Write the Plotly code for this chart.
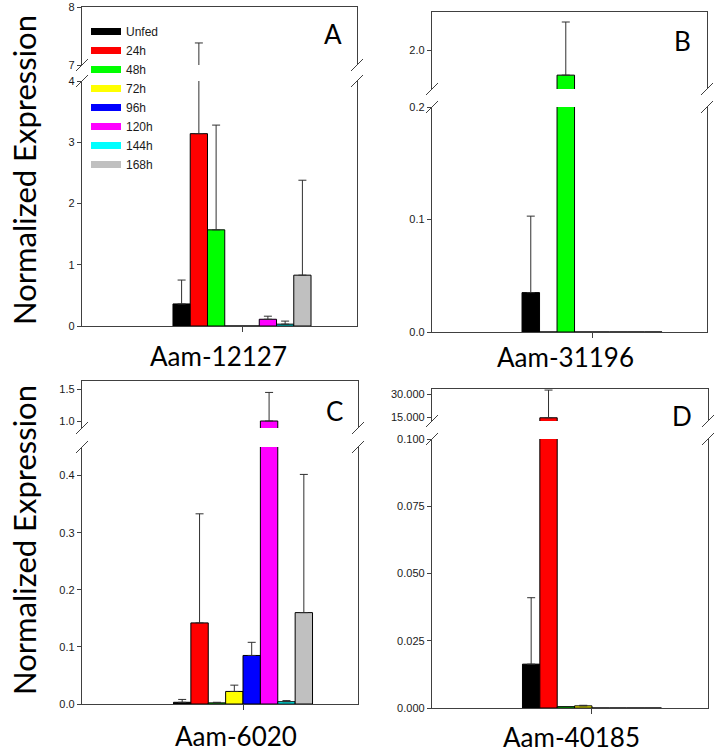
import plotly.graph_objects as go

# ---------------- data ----------------
series = ["Unfed", "24h", "48h", "72h", "96h", "120h", "144h", "168h"]
colors = ["#000000", "#ff0000", "#00ff00", "#ffff00", "#0000ff", "#ff00ff", "#00ffff", "#c0c0c0"]
genes = ["Aam-12127", "Aam-31196", "Aam-6020", "Aam-40185"]
panel_letters = ["A", "B", "C", "D"]

# mean normalized expression per time point
a_vals = [0.36, 3.14, 1.57, 0.0, 0.0, 0.11, 0.03, 0.83]
b_vals = [0.035, 0.0, 1.68, 0.0, 0.0, 0.0, 0.0, 0.0]
c_vals = [0.003, 0.142, 0.002, 0.022, 0.085, 1.0, 0.004, 0.16]
d_vals = [0.0163, 14.5, 0.0005, 0.0008, 0.0, 0.0, 0.0, 0.0]

# top of the (upper) error bar; None = no error bar
a_err_top = [0.75, 7.38, 3.28, None, None, 0.16, 0.08, 2.38]
b_err_top = [0.103, None, 2.37, None, None, None, None, None]
c_err_top = [0.008, 0.333, 0.003, 0.033, 0.108, 1.45, 0.006, 0.402]
d_err_top = [0.041, 32.6, None, 0.001, None, None, None, None]

# broken y axes: lower and upper segment ranges and ticks
a_low_range, a_up_range = [0, 4], [7, 8]
b_low_range, b_up_range = [0, 0.2], [1.5, 2.5]
c_low_range, c_up_range = [0, 0.45], [0.89, 1.63]
d_low_range, d_up_range = [0, 0.1], [12.4, 33.3]
a_low_ticks, a_up_ticks = [0, 1, 2, 3, 4], [7, 8]
b_low_ticks, b_up_ticks = [0.0, 0.1, 0.2], [2.0]
c_low_ticks, c_up_ticks = [0.0, 0.1, 0.2, 0.3, 0.4], [1.0, 1.5]
d_low_ticks, d_up_ticks = [0.0, 0.025, 0.05, 0.075, 0.1], [15, 30]

# ---------------- layout geometry (pixels) ----------------
W, H = 727, 755
def px(x):
    return x / W
def py(y):
    return 1 - y / H

panels = [
    dict(vals=a_vals, tops=a_err_top, lr=a_low_range, ur=a_up_range, lt=a_low_ticks, ut=a_up_ticks, fmt="d",
         xpx=(82, 357), low=(81, 326), up=(7, 65), xr=(-1.159, 0.833), lab=(333, 34), tit=(218, 356)),
    dict(vals=b_vals, tops=b_err_top, lr=b_low_range, ur=b_up_range, lt=b_low_ticks, ut=b_up_ticks, fmt=".1f",
         xpx=(432, 707), low=(107, 332), up=(12, 89), xr=(-1.143, 0.821), lab=(682, 41), tit=(565, 357)),
    dict(vals=c_vals, tops=c_err_top, lr=c_low_range, ur=c_up_range, lt=c_low_ticks, ut=c_up_ticks, fmt=".1f",
         xpx=(82, 358), low=(447, 704), up=(381, 428), xr=(-1.158, 0.827), lab=(334, 411), tit=(236, 736)),
    dict(vals=d_vals, tops=d_err_top, lr=d_low_range, ur=d_up_range, lt=d_low_ticks, ut=d_up_ticks, fmt=".3f",
         xpx=(432, 708), low=(439, 708), up=(389, 421), xr=(-1.151, 0.835), lab=(682, 416), tit=(571, 737)),
]

AXIS_COLOR = "#404040"
TICK_FONT = dict(family="Liberation Sans, Arial", size=11, color="#1a1a1a")
BIG_FONT = "Lato, Open Sans, sans-serif"

fig = go.Figure()
layout = dict(
    width=W, height=H, margin=dict(l=0, r=0, t=0, b=0, pad=0, autoexpand=False),
    plot_bgcolor="white", paper_bgcolor="white",
    barmode="overlay", showlegend=True,
)
shapes, annotations = [], []
n = len(series)
bw = 1.0 / n

for p_i, p in enumerate(panels):
    lo_idx = 2 * p_i + 1
    up_idx = 2 * p_i + 2
    xs = lambda k: "x" if k == 1 else f"x{k}"
    ys = lambda k: "y" if k == 1 else f"y{k}"
    xkey = lambda k: "xaxis" if k == 1 else f"xaxis{k}"
    ykey = lambda k: "yaxis" if k == 1 else f"yaxis{k}"
    xdom = [px(p["xpx"][0]), px(p["xpx"][1])]

    for seg_idx in (lo_idx, up_idx):
        for i, s in enumerate(series):
            v = p["vals"][i]
            t = p["tops"][i]
            err = None
            if t is not None:
                err = dict(type="data", symmetric=False, array=[t - v], arrayminus=[0],
                           color="#303030", thickness=1, width=4)
            fig.add_trace(go.Bar(
                x=[0], y=[v], width=[bw], offset=-0.5 + i * bw,
                marker=dict(color=colors[i], line=dict(color="#000000", width=1)),
                error_y=err if err else dict(visible=False),
                xaxis=xs(seg_idx), yaxis=ys(seg_idx), name=s, showlegend=False,
                hovertemplate=f"{genes[p_i]} {s}: %{{y}}<extra></extra>",
            ))

    # lower segment axes
    layout[xkey(lo_idx)] = dict(
        domain=xdom, anchor=ys(lo_idx), range=list(p["xr"]), showgrid=False, zeroline=False,
        showline=True, linecolor=AXIS_COLOR, linewidth=1.3, ticks="outside", ticklen=5,
        tickcolor=AXIS_COLOR, tickvals=[0], ticktext=[""], fixedrange=True, automargin=False,
    )
    layout[ykey(lo_idx)] = dict(
        domain=[py(p["low"][1]), py(p["low"][0])], anchor=xs(lo_idx), range=p["lr"],
        showgrid=False, zeroline=False, showline=True, mirror=True, linecolor=AXIS_COLOR,
        linewidth=1.3, ticks="outside", ticklen=4, tickcolor=AXIS_COLOR, tickvals=p["lt"],
        tickformat=p["fmt"], tickfont=TICK_FONT, fixedrange=True, automargin=False,
    )
    # upper segment axes
    layout[xkey(up_idx)] = dict(
        domain=xdom, anchor=ys(up_idx), matches=xs(lo_idx), side="top", showgrid=False,
        zeroline=False, showline=True, linecolor=AXIS_COLOR, linewidth=1.3, ticks="",
        showticklabels=False, fixedrange=True, automargin=False,
    )
    layout[ykey(up_idx)] = dict(
        domain=[py(p["up"][1]), py(p["up"][0])], anchor=xs(up_idx), range=p["ur"],
        showgrid=False, zeroline=False, showline=True, mirror=True, linecolor=AXIS_COLOR,
        linewidth=1.3, ticks="outside", ticklen=4, tickcolor=AXIS_COLOR, tickvals=p["ut"],
        tickformat=p["fmt"], tickfont=TICK_FONT, fixedrange=True, automargin=False,
    )

    # axis break marks "//" on both sides
    for xe in p["xpx"]:
        for ye in (p["low"][0], p["up"][1]):
            shapes.append(dict(type="line", xref="paper", yref="paper",
                               x0=px(xe - 6), y0=py(ye + 6), x1=px(xe + 6), y1=py(ye - 6),
                               line=dict(color=AXIS_COLOR, width=1)))

    annotations.append(dict(text=panel_letters[p_i], xref="paper", yref="paper",
                            x=px(p["lab"][0]), y=py(p["lab"][1]), xanchor="center", yanchor="middle",
                            showarrow=False, font=dict(family=BIG_FONT, size=26, color="black")))
    annotations.append(dict(text=genes[p_i], xref="paper", yref="paper",
                            x=px(p["tit"][0]), y=py(p["tit"][1]), xanchor="center", yanchor="middle",
                            showarrow=False, font=dict(family=BIG_FONT, size=26, color="black")))

# y-axis titles for left column
for yc in (170, 540):
    annotations.append(dict(text="Normalized Expression", xref="paper", yref="paper",
                            x=px(24), y=py(yc), xanchor="center", yanchor="middle", textangle=-90,
                            showarrow=False, font=dict(family=BIG_FONT, size=31, color="black")))

# legend entries (rectangle swatches)
for i, s in enumerate(series):
    fig.add_trace(go.Scatter(x=[None], y=[None], mode="lines", name=s,
                             line=dict(color=colors[i], width=7), xaxis="x", yaxis="y",
                             showlegend=True, hoverinfo="skip"))

layout["legend"] = dict(x=px(86), y=py(17), xanchor="left", yanchor="top",
                        bgcolor="rgba(0,0,0,0)", itemwidth=30, tracegroupgap=0,
                        font=dict(family="Liberation Sans, Arial", size=12, color="#1a1a1a"))
layout["shapes"] = shapes
layout["annotations"] = annotations
fig.update_layout(**layout)
fig.write_html("out.html", config={"displayModeBar": False},
               post_script="document.body.style.margin='0';document.body.style.overflow='hidden';")
